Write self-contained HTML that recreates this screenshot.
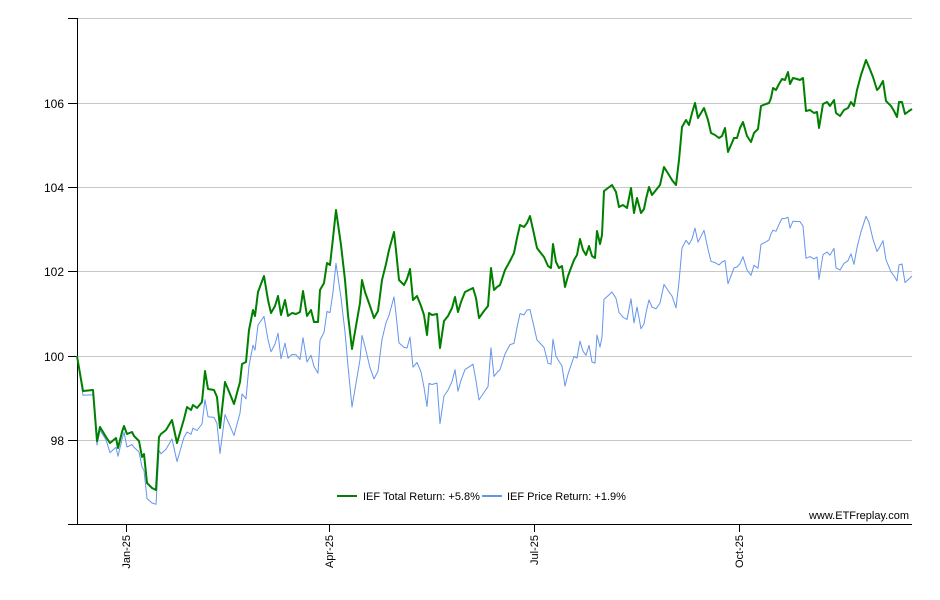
<!DOCTYPE html>
<html><head><meta charset="utf-8"><style>
body{margin:0;background:#fff;}
svg{display:block;font-family:"Liberation Sans",sans-serif;}
</style></head><body>
<svg id="c" width="940" height="600" xmlns="http://www.w3.org/2000/svg">
<g stroke="#c8c8c8" stroke-width="1">
<line x1="77" y1="18.5" x2="912" y2="18.5"/>
<line x1="77" y1="103.5" x2="912" y2="103.5"/>
<line x1="77" y1="187.5" x2="912" y2="187.5"/>
<line x1="77" y1="271.5" x2="912" y2="271.5"/>
<line x1="77" y1="356.5" x2="912" y2="356.5"/>
<line x1="77" y1="440.5" x2="912" y2="440.5"/>
</g>
<g stroke="#000" stroke-width="1">
<line x1="77.5" y1="18" x2="77.5" y2="525"/>
<line x1="77" y1="524.5" x2="912" y2="524.5"/>
<line x1="68" y1="18.5" x2="77" y2="18.5"/>
<line x1="68" y1="103.5" x2="77" y2="103.5"/>
<line x1="68" y1="187.5" x2="77" y2="187.5"/>
<line x1="68" y1="271.5" x2="77" y2="271.5"/>
<line x1="68" y1="356.5" x2="77" y2="356.5"/>
<line x1="68" y1="440.5" x2="77" y2="440.5"/>
<line x1="68" y1="524.5" x2="77" y2="524.5"/>
<line x1="126.5" y1="525" x2="126.5" y2="532"/>
<line x1="329.5" y1="525" x2="329.5" y2="532"/>
<line x1="534.5" y1="525" x2="534.5" y2="532"/>
<line x1="739.5" y1="525" x2="739.5" y2="532"/>
</g>
<g font-size="12" fill="#000" text-anchor="end">
<text x="64" y="108">106</text>
<text x="64" y="192">104</text>
<text x="64" y="276">102</text>
<text x="64" y="361">100</text>
<text x="64" y="445">98</text>
</g>
<g font-size="11" fill="#000" text-anchor="end">
<text transform="translate(130,535) rotate(-90)">Jan-25</text>
<text transform="translate(333,535) rotate(-90)">Apr-25</text>
<text transform="translate(538,535) rotate(-90)">Jul-25</text>
<text transform="translate(743,535) rotate(-90)">Oct-25</text>
</g>
<polyline id="blue" fill="none" stroke="#6495ed" stroke-width="1" stroke-linejoin="round"/>
<polyline id="green" fill="none" stroke="#008000" stroke-width="2" stroke-linejoin="round"/>
<line x1="337" y1="496" x2="357" y2="496" stroke="#008000" stroke-width="2"/>
<text x="363" y="500" font-size="11">IEF Total Return: +5.8%</text>
<line x1="482" y1="496" x2="502" y2="496" stroke="#6495ed" stroke-width="2"/>
<text x="507" y="500" font-size="11">IEF Price Return: +1.9%</text>
<text x="909" y="519" font-size="11" text-anchor="end">www.ETFreplay.com</text>
</svg>
<script>
var g=[77,356,83,391,93,390,97,441,100,427,106,437,110,443,116,438,118,448,122,432,124,426,127,434,132,432,134,436,139,441,142,457,144,454,147,483,152,488,156,490,159,437,161,434,166,430,172,420,177,443,184,419,187,407,191,410,193,405,197,408,202,402,205,371,208,389,214,390,217,397,220,428,225,382,230,394,234,404,240,382,242,364,246,362,249,330,253,310,255,316,258,292,264,276,268,300,271,313,275,306,278,296,281,315,285,300,288,316,292,313,296,314,300,312,303,291,307,316,311,310,314,322,318,322,320,290,324,283,327,263,330,265,333,238,336,210,341,245,345,280,348,315,352,349,356,326,360,303,362,280,365,292,370,306,374,318,378,311,382,280,386,264,389,250,394,232,396,250,399,280,404,285,407,279,410,269,413,300,417,296,421,306,424,315,427,335,429,313,432,315,437,314,440,348,444,321,448,316,452,308,455,297,458,312,461,302,465,292,469,290,473,288,476,298,479,318,484,311,488,306,491,268,494,290,497,287,500,285,505,270,510,261,514,253,517,238,520,225,524,227,527,223,530,216,534,234,537,248,540,252,544,257,548,266,551,268,553,244,556,262,559,268,562,266,565,287,568,276,571,268,574,260,577,255,580,239,583,250,586,255,589,246,592,256,595,258,597,231,600,244,602,235,604,191,608,188,612,185,616,192,619,207,623,205,627,208,631,188,634,213,637,198,641,213,644,209,646,199,649,187,652,195,656,190,660,185,664,167,669,175,672,180,676,185,679,160,682,127,686,120,689,125,692,113,695,103,698,118,701,113,704,108,708,120,711,133,715,135,719,138,722,136,725,128,728,152,731,145,734,138,737,138,740,128,743,122,747,136,751,142,754,133,758,129,761,106,766,104,769,103,771,98,773,88,776,90,779,84,782,79,785,80,788,72,790,84,793,78,797,79,800,80,803,78,806,111,810,110,814,113,817,112,819,128,823,104,827,102,830,106,834,100,836,113,840,116,844,110,848,108,851,102,854,106,857,90,861,75,866,60,869,67,873,77,877,90,879,88,883,81,886,101,891,106,894,111,897,117,899,102,902,102,905,114,909,111,912,109];
var gp=[],bp=[];
for(var i=0;i<g.length;i+=2){var x=g[i],y=g[i+1];gp.push(x+','+y);
var off=(x-77)/835*167; if(i>0&&i<g.length-2){off+=((i*7)%5-2)*1.5;}
bp.push(x+','+(y+off).toFixed(1));}
document.getElementById('green').setAttribute('points',gp.join(' '));
document.getElementById('blue').setAttribute('points',bp.join(' '));
</script>
</body></html>
